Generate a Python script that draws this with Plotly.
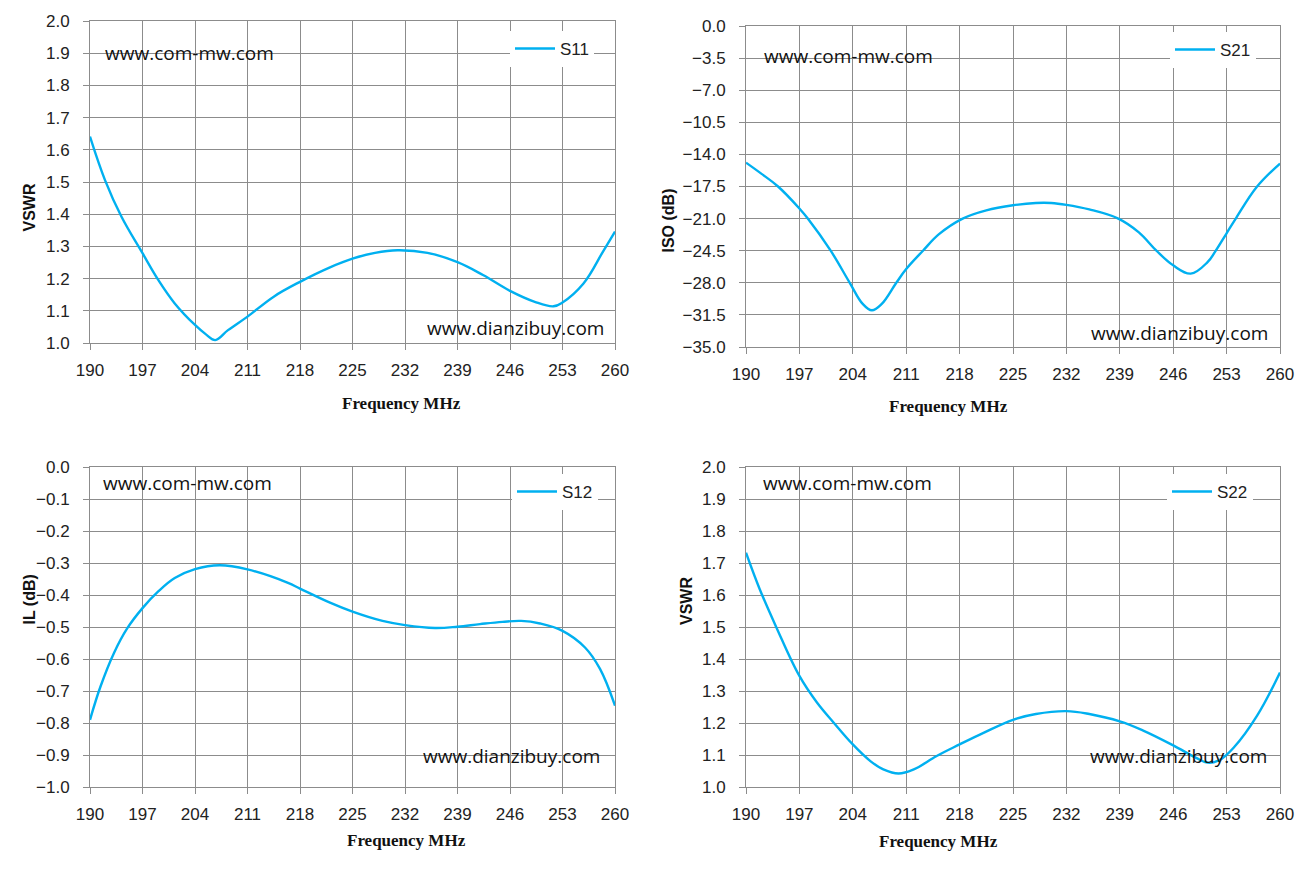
import plotly.graph_objects as go

# S11 (VSWR)
f_s11 = [190, 192, 194.2, 197, 199.1, 201.3, 204, 205.5, 206.7, 208.4, 211, 214.5, 218, 222, 225, 228, 231, 235, 239, 242.4, 246, 249.3, 251.8, 253, 255.8, 258.4, 260]
s11 = [1.641, 1.506, 1.392, 1.279, 1.196, 1.123, 1.056, 1.026, 1.009, 1.040, 1.082, 1.144, 1.190, 1.235, 1.262, 1.280, 1.288, 1.280, 1.251, 1.211, 1.162, 1.128, 1.114, 1.126, 1.185, 1.284, 1.346]

# S21 (ISO dB)
f_s21 = [190, 192, 194.2, 197, 198.1, 201.1, 203.6, 205.3, 206.5, 207.8, 209.7, 211, 213.2, 215.3, 218.4, 221.5, 225, 228, 230, 232, 235, 238.8, 241.5, 243.8, 246, 248.3, 250.5, 251.5, 253, 254.2, 257, 260]
s21 = [-14.9, -16.1, -17.5, -19.9, -21.0, -24.5, -28.0, -30.3, -31.0, -30.3, -28.0, -26.5, -24.5, -22.7, -21.0, -20.1, -19.55, -19.3, -19.3, -19.5, -20.0, -21.0, -22.5, -24.5, -26.1, -27.0, -25.75, -24.6, -22.6, -21.0, -17.5, -15.0]

# S12 (IL dB)
f_s12 = [190, 191.4, 193.2, 195, 197, 199.1, 201.3, 204, 207.3, 211, 216.4, 218, 222, 225, 229, 232, 236, 239, 242, 245, 247.5, 250, 253, 256, 258, 260]
s12 = [-0.790, -0.686, -0.581, -0.503, -0.441, -0.389, -0.347, -0.319, -0.307, -0.320, -0.362, -0.380, -0.424, -0.452, -0.481, -0.494, -0.503, -0.499, -0.491, -0.484, -0.481, -0.489, -0.512, -0.564, -0.631, -0.746]

# S22 (VSWR)
f_s22 = [190, 191.8, 194, 197, 199.3, 201.5, 204, 206.3, 208, 210, 212, 215, 218, 221.2, 225, 228, 232, 235, 239, 242, 246, 249, 250.5, 252, 254, 257, 260]
s22 = [1.732, 1.618, 1.498, 1.347, 1.264, 1.201, 1.133, 1.081, 1.055, 1.042, 1.055, 1.097, 1.133, 1.170, 1.210, 1.228, 1.237, 1.228, 1.205, 1.177, 1.130, 1.091, 1.076, 1.083, 1.125, 1.223, 1.358]

x_ticks = [190, 197, 204, 211, 218, 225, 232, 239, 246, 253, 260]
vswr_ticks = [1.0, 1.1, 1.2, 1.3, 1.4, 1.5, 1.6, 1.7, 1.8, 1.9, 2.0]
iso_ticks = [0.0, -3.5, -7.0, -10.5, -14.0, -17.5, -21.0, -24.5, -28.0, -31.5, -35.0]
il_ticks = [0.0, -0.1, -0.2, -0.3, -0.4, -0.5, -0.6, -0.7, -0.8, -0.9, -1.0]

W, H = 1310, 874
OFF = 8  # page body margin
BLUE = "#00B0F0"
GRID = "#8c8c8c"
TICKFONT = dict(family="Liberation Sans Narrow, Liberation Sans, Arial", size=17, color="#222")
TXTFONT = dict(family="Open Sans, Liberation Sans", size=19, color="#111")
YTFONT = dict(family="Liberation Sans, Arial", size=16, color="#111")
XTFONT = dict(family="Liberation Serif, DejaVu Serif", size=17, color="#111")


def px_x(v):
    return (v - OFF) / W


def px_y(v):
    return 1 - (v - OFF) / H


# plot areas in screen pixels: (left, right, top, bottom)
boxes = [(90, 615, 21, 343), (746, 1280, 26, 347), (90, 615, 467, 787), (746, 1280, 467, 787)]

fig = go.Figure()

panels = [
    (f_s11, s11, "S11", [1.0, 2.0], vswr_ticks, "VSWR", 18),
    (f_s21, s21, "S21", [-35.0, 0.0], iso_ticks, "ISO (dB)", 668),
    (f_s12, s12, "S12", [-1.0, 0.0], il_ticks, "IL (dB)", 18),
    (f_s22, s22, "S22", [1.0, 2.0], vswr_ticks, "VSWR", 686),
]
legend_pos = [(510, 31), (1170, 32), (512, 474), (1167, 474)]
xtitle_pos = [(340, 403), (1010, 406), (345, 852), (1000, 853)]
top_txt = [(103, 38), (762, 41), (101, 483), (761, 483)]
bot_txt = [(606, 328), (1270, 333), (602, 771), (1269, 771)]

layout = dict(width=W, height=H, margin=dict(l=0, r=0, t=0, b=0), showlegend=True,
              paper_bgcolor="white", plot_bgcolor="white", annotations=[])

for i, (fx, fy, name, rng, yt, ytitle, ytx) in enumerate(panels):
    n = "" if i == 0 else str(i + 1)
    l, r, t, b = boxes[i]
    leg = "legend" if i == 0 else "legend" + str(i + 1)
    fig.add_trace(go.Scatter(x=fx, y=fy, name=name, mode="lines", showlegend=True,
                             line=dict(color=BLUE, width=2.4, shape="spline", smoothing=1.1),
                             xaxis="x" + n, yaxis="y" + n, legend=leg))
    layout["xaxis" + n] = dict(domain=[px_x(l), px_x(r)], anchor="y" + n, range=[190, 260],
                               tickvals=x_ticks, showgrid=True, gridcolor=GRID, gridwidth=1,
                               showline=True, linecolor=GRID, mirror=True, ticks="outside",
                               ticklen=6, tickcolor=GRID, tickfont=TICKFONT, zeroline=False,
                               ticklabelstandoff=6, automargin=False)
    layout["yaxis" + n] = dict(domain=[px_y(b), px_y(t)], anchor="x" + n, range=rng,
                               tickvals=yt, tickformat=".1f", showgrid=True, gridcolor=GRID,
                               gridwidth=1, showline=True, linecolor=GRID, mirror=True,
                               ticks="outside", ticklen=6, tickcolor=GRID, tickfont=TICKFONT,
                               zeroline=False, ticklabelstandoff=10, automargin=False)
    lx, ly = legend_pos[i]
    layout[leg] = dict(x=px_x(lx), y=px_y(ly), xanchor="left", yanchor="top",
                       bgcolor="white", borderwidth=0,
                       font=dict(family=TICKFONT["family"], size=17, color="#222"),
                       itemwidth=40, tracegroupgap=0)
    layout["annotations"].append(dict(text="<b>" + ytitle + "</b>", x=px_x(ytx), y=px_y((t + b) / 2),
                                      xref="paper", yref="paper", textangle=-90, showarrow=False,
                                      font=YTFONT))
    xx, xy = xtitle_pos[i]
    layout["annotations"].append(dict(text="<b>Frequency MHz</b>", x=px_x(xx), y=px_y(xy),
                                      xref="paper", yref="paper", showarrow=False, font=XTFONT))
    tx, ty = top_txt[i]
    layout["annotations"].append(dict(text="www.com-mw.com", x=px_x(tx), y=px_y(ty), xanchor="left",
                                      xref="paper", yref="paper", showarrow=False, font=TXTFONT))
    bx, by = bot_txt[i]
    layout["annotations"].append(dict(text="www.dianzibuy.com", x=px_x(bx), y=px_y(by), xanchor="right",
                                      xref="paper", yref="paper", showarrow=False, font=TXTFONT))

fig.update_layout(**layout)
fig.write_html("out.html")
